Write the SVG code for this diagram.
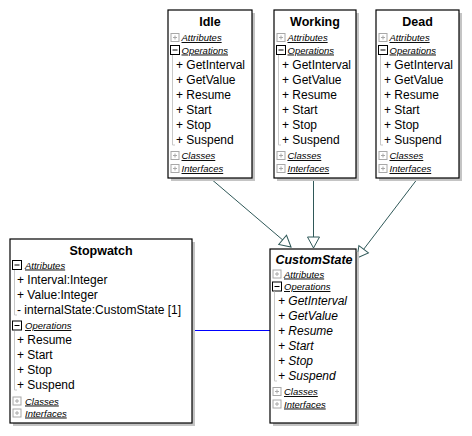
<svg xmlns="http://www.w3.org/2000/svg" width="472" height="436" viewBox="0 0 472 436">
<style>
.box{fill:#fff;stroke:#000;stroke-width:1.2}
.sh{fill:#c4c4c4}
.t{font-family:"Liberation Sans",Arial,sans-serif;font-size:12.5px;font-weight:bold;text-anchor:middle;fill:#000}
.ti{font-style:italic}
.sec{font-family:"Liberation Sans",Arial,sans-serif;font-size:9.5px;font-style:italic;text-decoration:underline;fill:#000}
.m{font-family:"Liberation Sans",Arial,sans-serif;font-size:12px;fill:#000}
.mi{font-style:italic}
.ex{fill:#fff;stroke:#000;stroke-width:1}
.co{fill:#fff;stroke:#a8a8a8;stroke-width:1}
.g{stroke:#c8c8c8;stroke-width:1;fill:none}
.gen{stroke:#2f5858;stroke-width:1;fill:none}
.assoc{stroke:#0000ff;stroke-width:1;fill:none}
</style>
<defs>
<marker id="tri" markerUnits="userSpaceOnUse" markerWidth="14" markerHeight="14" viewBox="-12 -7 13 14" refX="0" refY="0" orient="auto">
<path d="M0,0 L-11,-6 L-11,6 Z" fill="#fff" stroke="#2f5858" stroke-width="1"/>
</marker>
<g id="ic-c"><rect class="co" x="0.5" y="-4" width="8" height="8"/><path d="M2.5,0 H6.5 M4.5,-2 V2" stroke="#a8a8a8" stroke-width="1"/></g>
<g id="ic-e"><rect class="ex" x="0.5" y="-4.5" width="9" height="9"/><path d="M2.5,0 H7.5" stroke="#000" stroke-width="1"/></g>
</defs>

<g id="connectors">
<line class="gen" x1="210" y1="178" x2="291" y2="247" marker-end="url(#tri)"/>
<line class="gen" x1="313.5" y1="178" x2="313.5" y2="248" marker-end="url(#tri)"/>
<line class="gen" x1="418" y1="178" x2="357" y2="258" marker-end="url(#tri)"/>
<line class="assoc" x1="192" y1="330.5" x2="270" y2="330.5"/>
</g>

<g id="idle">
<rect class="sh" x="171" y="13" width="84" height="168"/>
<rect class="box" x="168" y="10" width="84" height="168"/>
<text class="t" x="210" y="25.5">Idle</text>
<use href="#ic-c" x="170.5" y="37.5"/><text class="sec" x="181.5" y="41">Attributes</text>
<use href="#ic-e" x="170" y="50"/><text class="sec" x="181.5" y="53.5">Operations</text>
<path class="g" d="M172.5,55 V145 H175"/>
<text class="m" x="176" y="69.3">+ GetInterval</text>
<text class="m" x="176" y="84.3">+ GetValue</text>
<text class="m" x="176" y="99.3">+ Resume</text>
<text class="m" x="176" y="114.3">+ Start</text>
<text class="m" x="176" y="129.3">+ Stop</text>
<text class="m" x="176" y="144.3">+ Suspend</text>
<use href="#ic-c" x="170.5" y="155.5"/><text class="sec" x="181.5" y="159">Classes</text>
<use href="#ic-c" x="170.5" y="168.5"/><text class="sec" x="181.5" y="172">Interfaces</text>
</g>

<g id="working">
<rect class="sh" x="277" y="13" width="82" height="168"/>
<rect class="box" x="274" y="10" width="82" height="168"/>
<text class="t" x="315" y="25.5">Working</text>
<use href="#ic-c" x="276.5" y="37.5"/><text class="sec" x="287.5" y="41">Attributes</text>
<use href="#ic-e" x="276" y="50"/><text class="sec" x="287.5" y="53.5">Operations</text>
<path class="g" d="M278.5,55 V145 H281"/>
<text class="m" x="282" y="69.3">+ GetInterval</text>
<text class="m" x="282" y="84.3">+ GetValue</text>
<text class="m" x="282" y="99.3">+ Resume</text>
<text class="m" x="282" y="114.3">+ Start</text>
<text class="m" x="282" y="129.3">+ Stop</text>
<text class="m" x="282" y="144.3">+ Suspend</text>
<use href="#ic-c" x="276.5" y="155.5"/><text class="sec" x="287.5" y="159">Classes</text>
<use href="#ic-c" x="276.5" y="168.5"/><text class="sec" x="287.5" y="172">Interfaces</text>
</g>

<g id="dead">
<rect class="sh" x="379" y="13" width="83" height="168"/>
<rect class="box" x="376" y="10" width="83" height="168"/>
<text class="t" x="417.5" y="25.5">Dead</text>
<use href="#ic-c" x="378.5" y="37.5"/><text class="sec" x="389.5" y="41">Attributes</text>
<use href="#ic-e" x="378" y="50"/><text class="sec" x="389.5" y="53.5">Operations</text>
<path class="g" d="M380.5,55 V145 H383"/>
<text class="m" x="384" y="69.3">+ GetInterval</text>
<text class="m" x="384" y="84.3">+ GetValue</text>
<text class="m" x="384" y="99.3">+ Resume</text>
<text class="m" x="384" y="114.3">+ Start</text>
<text class="m" x="384" y="129.3">+ Stop</text>
<text class="m" x="384" y="144.3">+ Suspend</text>
<use href="#ic-c" x="378.5" y="155.5"/><text class="sec" x="389.5" y="159">Classes</text>
<use href="#ic-c" x="378.5" y="168.5"/><text class="sec" x="389.5" y="172">Interfaces</text>
</g>

<g id="stopwatch">
<rect class="sh" x="13" y="242" width="182" height="184"/>
<rect class="box" x="10" y="239" width="182" height="184"/>
<text class="t" x="101" y="254.5">Stopwatch</text>
<use href="#ic-e" x="12" y="265"/><text class="sec" x="25" y="268.5">Attributes</text>
<path class="g" d="M14.5,270 V315 H17"/>
<text class="m" x="17" y="284.3">+ Interval:Integer</text>
<text class="m" x="17" y="299.3">+ Value:Integer</text>
<text class="m" x="17" y="314.3">- internalState:CustomState [1]</text>
<use href="#ic-e" x="12" y="325.5"/><text class="sec" x="25" y="329">Operations</text>
<path class="g" d="M14.5,331 V390 H17"/>
<text class="m" x="17" y="344.3">+ Resume</text>
<text class="m" x="17" y="359.3">+ Start</text>
<text class="m" x="17" y="374.3">+ Stop</text>
<text class="m" x="17" y="389.3">+ Suspend</text>
<use href="#ic-c" x="12.5" y="401"/><text class="sec" x="25" y="404.5">Classes</text>
<use href="#ic-c" x="12.5" y="413"/><text class="sec" x="25" y="416.5">Interfaces</text>
</g>

<g id="customstate">
<rect class="sh" x="273" y="252" width="86" height="174"/>
<rect class="box" x="270" y="249" width="86" height="174"/>
<text class="t ti" x="314" y="263.5">CustomState</text>
<use href="#ic-c" x="272.5" y="274"/><text class="sec" x="284" y="277.5">Attributes</text>
<use href="#ic-e" x="272" y="286.5"/><text class="sec" x="284" y="290">Operations</text>
<path class="g" d="M274.5,291.5 V381 H277"/>
<text class="m mi" x="278" y="305.3">+ GetInterval</text>
<text class="m mi" x="278" y="320.3">+ GetValue</text>
<text class="m mi" x="278" y="335.3">+ Resume</text>
<text class="m mi" x="278" y="350.3">+ Start</text>
<text class="m mi" x="278" y="365.3">+ Stop</text>
<text class="m mi" x="278" y="380.3">+ Suspend</text>
<use href="#ic-c" x="272.5" y="391.5"/><text class="sec" x="284" y="395">Classes</text>
<use href="#ic-c" x="272.5" y="404"/><text class="sec" x="284" y="407.5">Interfaces</text>
</g>
</svg>
